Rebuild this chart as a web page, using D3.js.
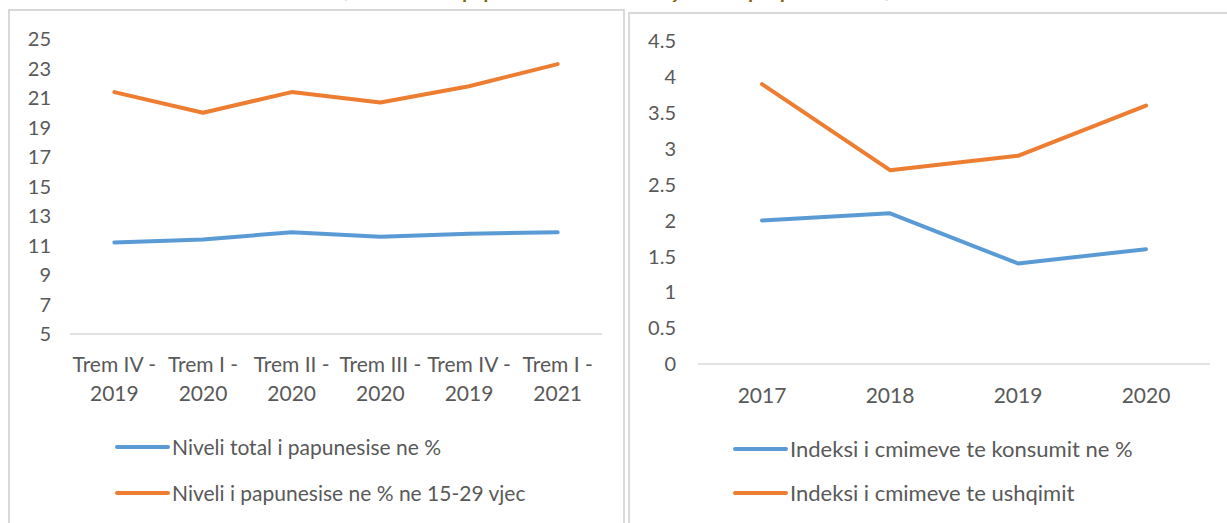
<!DOCTYPE html>
<html>
<head>
<meta charset="utf-8">
<script src="https://cdn.jsdelivr.net/npm/d3@7"></script>
<style>
  body { margin: 0; background: #fff; }
  svg text { font-family: Lato, "Open Sans", sans-serif; fill: #595959; }
</style>
</head>
<body>
<svg id="chart" width="1227" height="523"></svg>
<script>
// left panel: unemployment by quarter
const quarters = [["Trem IV -", "2019"], ["Trem I -", "2020"], ["Trem II -", "2020"],
                  ["Trem III -", "2020"], ["Trem IV -", "2019"], ["Trem I -", "2021"]];
const unemploymentTotal = [11.2, 11.4, 11.9, 11.6, 11.8, 11.9];
const unemploymentYouth = [21.4, 20.0, 21.4, 20.7, 21.8, 23.3];
const leftTicks = [5, 7, 9, 11, 13, 15, 17, 19, 21, 23, 25];
const leftLegend = ["Niveli total i papunesise ne %", "Niveli i papunesise ne % ne 15-29 vjec"];

// right panel: price indices by year
const years = ["2017", "2018", "2019", "2020"];
const cpi = [2.0, 2.1, 1.4, 1.6];
const foodIndex = [3.9, 2.7, 2.9, 3.6];
const rightTicks = [0, 0.5, 1, 1.5, 2, 2.5, 3, 3.5, 4, 4.5];
const rightLegend = ["Indeksi i cmimeve te konsumit ne %", "Indeksi i cmimeve te ushqimit"];

const BLUE = "#5b9bd5", ORANGE = "#ed7d31";
const svg = d3.select("#chart");

// title sits above the page edge, as in the source only its lower edge shows
svg.append("text")
  .attr("x", 625).attr("y", -2)
  .attr("text-anchor", "middle")
  .style("font-size", "20px").style("font-weight", "bold").style("font-style", "italic")
  .style("fill", "#7f6000")
  .text("Grafiku 2. Niveli i papunesise dhe indeksi i çmimeve per periudhen e fundit");

// panel frames
svg.append("rect").attr("x", 9).attr("y", 10).attr("width", 615).attr("height", 540)
  .attr("fill", "none").attr("stroke", "#d9d9d9").attr("stroke-width", 2);
svg.append("rect").attr("x", 629).attr("y", 13).attr("width", 640).attr("height", 540)
  .attr("fill", "none").attr("stroke", "#d9d9d9").attr("stroke-width", 2);

const drawPanel = (cfg) => {
  const g = svg.append("g");
  const x = d3.scaleBand().domain(d3.range(cfg.cats.length)).range(cfg.xRange);
  const y = d3.scaleLinear().domain(cfg.yDomain).range(cfg.yRange);

  // y labels
  g.selectAll("text.ytick").data(cfg.ticks).enter().append("text")
    .attr("class", "ytick")
    .attr("x", cfg.labelX).attr("y", (d) => y(d)).attr("dy", "0.36em")
    .attr("text-anchor", "end")
    .style("font-size", "20px")
    .text((d) => d);

  // baseline
  g.append("line")
    .attr("x1", cfg.xRange[0]).attr("x2", cfg.xRange[1])
    .attr("y1", y(cfg.yDomain[0])).attr("y2", y(cfg.yDomain[0]))
    .attr("stroke", "#d9d9d9").attr("stroke-width", 1.5);

  // category labels
  const cx = (i) => x(i) + x.bandwidth() / 2;
  cfg.cats.forEach((c, i) => {
    const lines = Array.isArray(c) ? c : [c];
    const t = g.append("text")
      .attr("x", cx(i)).attr("y", cfg.catY)
      .attr("text-anchor", "middle")
      .style("font-size", "21px");
    lines.forEach((ln, k) => {
      t.append("tspan").attr("x", cx(i)).attr("dy", k == 0 ? 0 : 29).text(ln);
    });
  });

  const line = d3.line().x((d, i) => cx(i)).y((d) => y(d));
  cfg.series.forEach((s) => {
    g.append("path").datum(s.values)
      .attr("d", line)
      .attr("fill", "none").attr("stroke", s.color)
      .attr("stroke-width", 4).attr("stroke-linecap", "round").attr("stroke-linejoin", "round");
  });

  // legend
  cfg.series.forEach((s, i) => {
    const ly = cfg.legendY + i * cfg.legendGap;
    g.append("line")
      .attr("x1", cfg.legendX).attr("x2", cfg.legendX + 51)
      .attr("y1", ly).attr("y2", ly)
      .attr("stroke", s.color).attr("stroke-width", 4).attr("stroke-linecap", "round");
    g.append("text")
      .attr("x", cfg.legendX + 55).attr("y", ly).attr("dy", "0.36em")
      .style("font-size", cfg.legendSize)
      .text(s.name);
  });
};

drawPanel({
  cats: quarters,
  xRange: [70, 602],
  yDomain: [5, 25], yRange: [334, 39],
  ticks: leftTicks, labelX: 51,
  catY: 372,
  series: [
    {name: leftLegend[0], values: unemploymentTotal, color: BLUE},
    {name: leftLegend[1], values: unemploymentYouth, color: ORANGE}
  ],
  legendX: 117, legendY: 447, legendGap: 46, legendSize: "21px"
});

drawPanel({
  cats: years,
  xRange: [698, 1210],
  yDomain: [0, 4.5], yRange: [364, 41],
  ticks: rightTicks, labelX: 676,
  catY: 403,
  series: [
    {name: rightLegend[0], values: cpi, color: BLUE},
    {name: rightLegend[1], values: foodIndex, color: ORANGE}
  ],
  legendX: 735, legendY: 449, legendGap: 44, legendSize: "22px"
});
</script>
</body>
</html>
